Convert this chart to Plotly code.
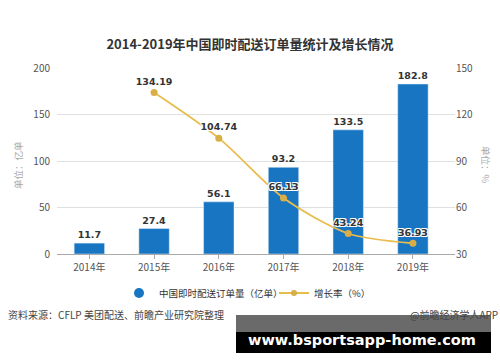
import plotly.graph_objects as go

years = ["2014年", "2015年", "2016年", "2017年", "2018年", "2019年"]
orders = [11.7, 27.4, 56.1, 93.2, 133.5, 182.8]
growth_years = ["2015年", "2016年", "2017年", "2018年", "2019年"]
growth = [134.19, 104.74, 66.13, 43.24, 36.93]
left_ticks = [0, 50, 100, 150, 200]
right_ticks = [30, 60, 90, 120, 150]

W, H = 500, 362
L, R, T, B = 57, 45, 68, 108

def px(x):
    return (x - L) / (W - L - R)

def py(y):
    return (H - B - y) / (H - T - B)

FONT = "Noto Sans CJK SC, Microsoft YaHei, sans-serif"
BLUE = "#1875C2"
GOLD = "#E9BC4E"

fig = go.Figure()
fig.add_trace(go.Bar(
    x=years, y=orders, marker_color=BLUE, width=0.47,
    text=[f"{v}" for v in orders], textposition="outside",
    textfont=dict(size=9.5, color="#333", family="DejaVu Sans, sans-serif", weight="bold"),
    cliponaxis=False, showlegend=False, name="中国即时配送订单量（亿单）",
))
fig.add_trace(go.Scatter(
    x=growth_years, y=growth, yaxis="y2", mode="lines+markers+text",
    line=dict(color=GOLD, width=1.8, shape="spline", smoothing=0.8),
    marker=dict(color="#D9AE45", size=7),
    text=[f"{v:.2f}" for v in growth], textposition="top center",
    textfont=dict(size=9.5, color="#333", family="DejaVu Sans, sans-serif", weight="bold",
                  shadow="1px 1px 0px white, -1px -1px 0px white, 1px -1px 0px white, -1px 1px 0px white"),
    cliponaxis=False, name="增长率（%）", showlegend=False,
))
# legend proxies
fig.add_trace(go.Scatter(x=[None], y=[None], mode="markers",
                         marker=dict(color=BLUE, size=10, symbol="circle"),
                         name="中国即时配送订单量（亿单）", legend="legend"))
fig.add_trace(go.Scatter(x=[None], y=[None], mode="lines+markers",
                         line=dict(color=GOLD, width=2), marker=dict(color="#D9AE45", size=6),
                         name="增长率（%）", legend="legend2"))

fig.update_layout(
    width=W, height=H, margin=dict(l=L, r=R, t=T, b=B),
    paper_bgcolor="white", plot_bgcolor="white",
    font=dict(family=FONT, size=10, color="#555"),
    title=dict(text="2014-2019年中国即时配送订单量统计及增长情况", x=0.5, xanchor="center",
               y=1 - 44 / H, yanchor="middle",
               font=dict(size=13, color="#333", family=FONT, weight="bold")),
    xaxis=dict(range=[-0.5, 5.65], showgrid=False, showline=True, linecolor="#aaa",
               ticks="outside", ticklen=4, tickcolor="#aaa",
               tickfont=dict(size=10, color="#555"), fixedrange=True),
    yaxis=dict(range=[0, 200], tickvals=left_ticks, showgrid=True, gridcolor="#e0e0e0",
               zeroline=False, showline=False, tickfont=dict(size=10, color="#555"), ticklabelstandoff=6),
    yaxis2=dict(range=[30, 150], tickvals=right_ticks, overlaying="y", side="right",
                showgrid=False, zeroline=False, showline=False,
                tickfont=dict(size=10, color="#555")),
    legend=dict(orientation="h", x=px(119), xanchor="left", y=py(293), yanchor="middle",
                font=dict(size=9.5, color="#333"), bgcolor="rgba(0,0,0,0)", itemwidth=30),
    legend2=dict(orientation="h", x=px(274), xanchor="left", y=py(293), yanchor="middle",
                 font=dict(size=9.5, color="#333"), bgcolor="rgba(0,0,0,0)", itemwidth=30),
    bargap=0.5,
    showlegend=True,
)

annotations = [
    dict(text="单位：亿单", x=px(18), y=py(165), textangle=-90, font=dict(size=9.5, color="#aaa")),
    dict(text="单位：%", x=px(486), y=py(165), textangle=90, font=dict(size=9.5, color="#aaa")),
    dict(text="资料来源：CFLP 美团配送、前瞻产业研究院整理", x=px(6), y=py(314), xanchor="left",
         font=dict(size=10, color="#444")),
    dict(text="@前瞻经济学人APP", x=px(500), y=py(314), xanchor="right",
         font=dict(size=10, color="#444")),
    dict(text="<b>www.bsportsapp-home.com</b>", x=px(362), y=py(340),
         font=dict(size=14.5, color="white", family="DejaVu Sans, sans-serif")),
]
for a in annotations:
    a.update(xref="paper", yref="paper", showarrow=False, yanchor="middle")
    a.setdefault("xanchor", "center")
fig.update_layout(annotations=annotations)

fig.update_layout(shapes=[
    dict(type="rect", xref="paper", yref="paper", x0=px(236), x1=px(491), y0=py(332), y1=py(315),
         fillcolor="#6a6a6a", line_width=0, layer="above"),
    dict(type="rect", xref="paper", yref="paper", x0=px(236), x1=px(491), y0=py(353), y1=py(332),
         fillcolor="#000000", line_width=0, layer="above"),
])

fig.write_html("out.html", config={"displayModeBar": False},
               post_script="document.body.style.margin='0';document.body.style.overflow='hidden';")
